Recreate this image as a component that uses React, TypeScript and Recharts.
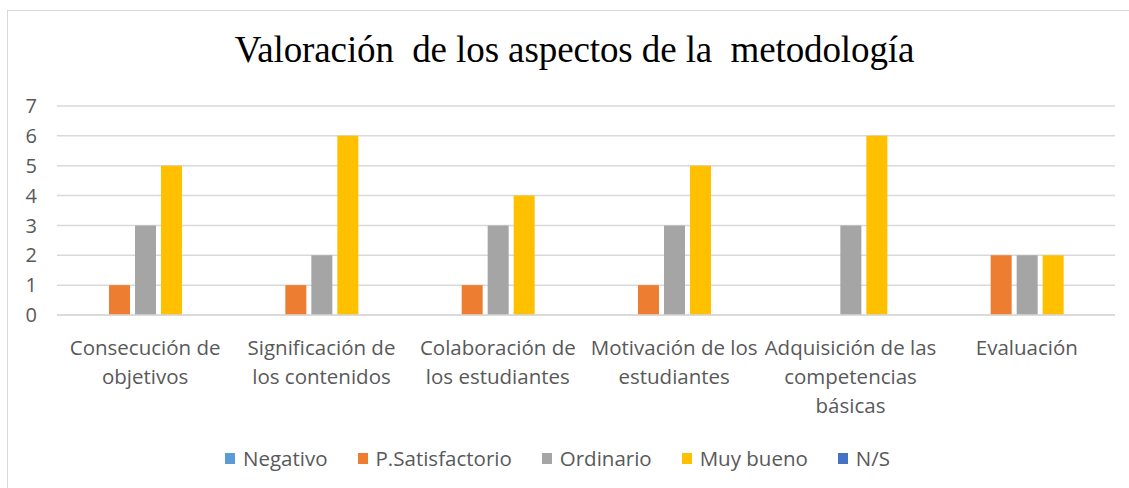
import React from 'react';
import { BarChart, Bar, XAxis, YAxis, CartesianGrid, Legend } from 'recharts';

// Categories (x axis) and the label lines used for wrapping
const categories = [
  'Consecución de objetivos',
  'Significación de los contenidos',
  'Colaboración de los estudiantes',
  'Motivación de los estudiantes',
  'Adquisición de las competencias básicas',
  'Evaluación'
];

const categoryLines: string[][] = [
  ['Consecución de', 'objetivos'],
  ['Significación de', 'los contenidos'],
  ['Colaboración de', 'los estudiantes'],
  ['Motivación de los', 'estudiantes'],
  ['Adquisición de las', 'competencias', 'básicas'],
  ['Evaluación']
];

// Series values, one per category
const negativo = [0, 0, 0, 0, 0, 0];
const pSatisfactorio = [1, 1, 1, 1, 0, 2];
const ordinario = [3, 2, 3, 3, 3, 2];
const muyBueno = [5, 6, 4, 5, 6, 2];
const noSabe = [0, 0, 0, 0, 0, 0];

const yTicks = [0, 1, 2, 3, 4, 5, 6, 7];

const series = [
  { key: 'negativo', name: 'Negativo', color: '#5B9BD5' },
  { key: 'pSatisfactorio', name: 'P.Satisfactorio', color: '#ED7D31' },
  { key: 'ordinario', name: 'Ordinario', color: '#A5A5A5' },
  { key: 'muyBueno', name: 'Muy bueno', color: '#FFC000' },
  { key: 'noSabe', name: 'N/S', color: '#4472C4' }
];

const data = categories.map((cat, i) => ({
  cat,
  negativo: negativo[i],
  pSatisfactorio: pSatisfactorio[i],
  ordinario: ordinario[i],
  muyBueno: muyBueno[i],
  noSabe: noSabe[i]
}));

const FONT = '"Open Sans", "Noto Sans", sans-serif';

// Multi-line category label
const CategoryTick = ({ x, y, payload }: any) => {
  const idx = categories.indexOf(payload.value);
  const lines = idx >= 0 ? categoryLines[idx] : [payload.value];
  return (
    <text x={x} y={y} textAnchor="middle" fill="#595959" fontSize={20.5} fontFamily={FONT}>
      {lines.map((line, i) => (
        <tspan key={i} x={x} dy={i === 0 ? 32 : 29}>
          {line}
        </tspan>
      ))}
    </text>
  );
};

const LegendContent = () => (
  <div
    style={{
      height: 26,
      display: 'flex',
      justifyContent: 'center',
      alignItems: 'center',
      gap: 30,
      fontFamily: FONT,
      fontSize: 20.5,
      color: '#595959'
    }}
  >
    {series.map((s) => (
      <div key={s.key} style={{ display: 'flex', alignItems: 'center' }}>
        <span style={{ width: 10, height: 11, background: s.color, marginRight: 8, display: 'inline-block' }} />
        <span>{s.name}</span>
      </div>
    ))}
  </div>
);

const App: React.FC = () => {
  return (
    <div style={{ position: 'absolute', left: 0, top: 0, width: 1129, height: 488, background: '#fff', overflow: 'hidden' }}>
      <div
        style={{
          position: 'absolute',
          left: 7,
          top: 10,
          width: 1125,
          height: 490,
          border: '1.5px solid #D9D9D9',
          boxSizing: 'border-box'
        }}
      />
      <div
        style={{
          position: 'absolute',
          left: 0,
          top: 28,
          width: 1149,
          textAlign: 'center',
          fontFamily: '"Liberation Serif", serif',
          fontSize: 37,
          color: '#000',
          letterSpacing: -0.1
        }}
      >
        Valoración&nbsp; de los aspectos de la&nbsp; metodología
      </div>
      <BarChart
        width={1129}
        height={488}
        data={data}
        margin={{ top: 106, right: 14, left: 0, bottom: 17 }}
        barSize={21}
        barGap={5}
        style={{ position: 'absolute', left: 0, top: 0 }}
      >
        <CartesianGrid vertical={false} stroke="#D9D9D9" strokeWidth={1.5} />
        <XAxis
          dataKey="cat"
          axisLine={{ stroke: '#D9D9D9', strokeWidth: 1.5 }}
          tickLine={false}
          interval={0}
          height={130}
          tick={<CategoryTick />}
        />
        <YAxis
          domain={[0, 7]}
          ticks={yTicks}
          width={57}
          axisLine={false}
          tickLine={false}
          tickMargin={14}
          tick={{ fill: '#595959', fontSize: 20, fontFamily: FONT }}
        />
        <Legend verticalAlign="bottom" content={<LegendContent />} />
        {series.map((s) => (
          <Bar key={s.key} dataKey={s.key} name={s.name} fill={s.color} isAnimationActive={false} />
        ))}
      </BarChart>
    </div>
  );
};

export default App;
